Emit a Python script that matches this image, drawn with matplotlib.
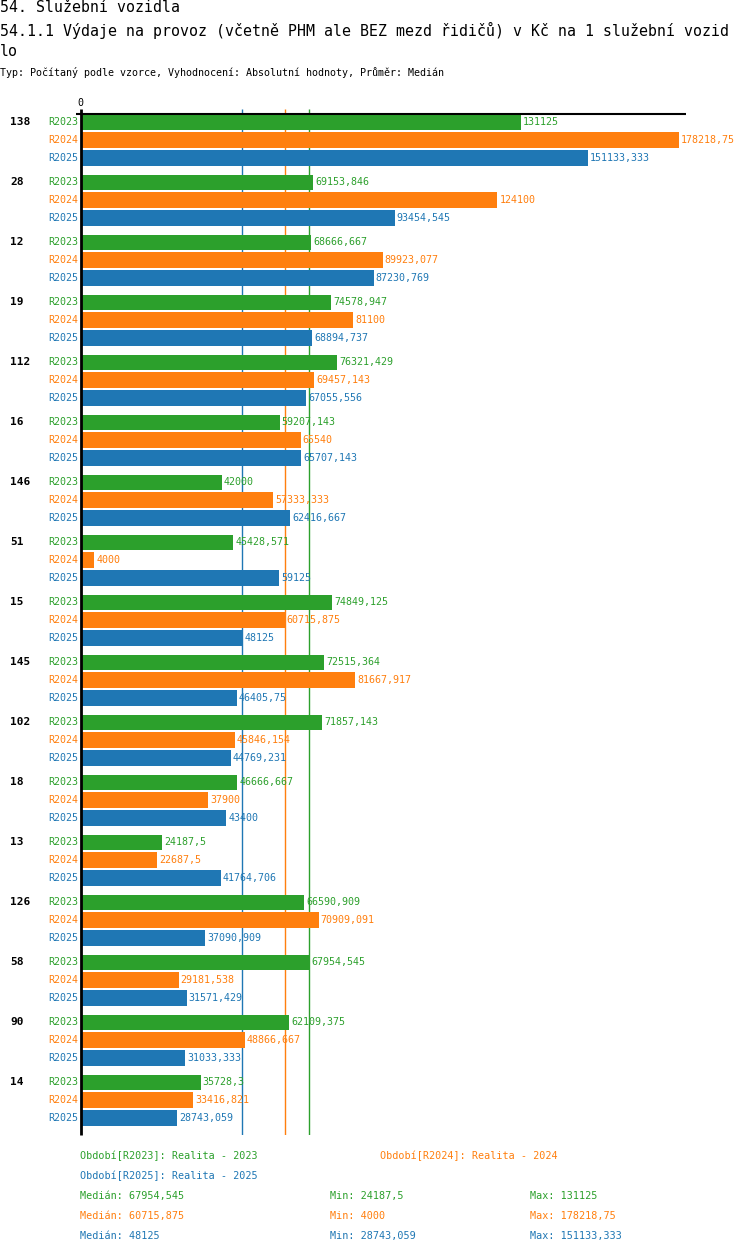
import matplotlib
matplotlib.use('Agg')
import matplotlib.pyplot as plt

#======== Data ========

groups = ['138', '28', '12', '19', '112', '16', '146', '51', '15', '145',
          '102', '18', '13', '126', '58', '90', '14']
series = ['R2023', 'R2024', 'R2025']

r2023 = [131125, 69153.846, 68666.667, 74578.947, 76321.429, 59207.143, 42000,
         45428.571, 74849.125, 72515.364, 71857.143, 46666.667, 24187.5,
         66590.909, 67954.545, 62109.375, 35728.3]
r2024 = [178218.75, 124100, 89923.077, 81100, 69457.143, 65540, 57333.333,
         4000, 60715.875, 81667.917, 45846.154, 37900, 22687.5,
         70909.091, 29181.538, 48866.667, 33416.821]
r2025 = [151133.333, 93454.545, 87230.769, 68894.737, 67055.556, 65707.143,
         62416.667, 59125, 48125, 46405.75, 44769.231, 43400, 41764.706,
         37090.909, 31571.429, 31033.333, 28743.059]

medians = [67954.545, 60715.875, 48125]
minima = [24187.5, 4000, 28743.059]
maxima = [131125, 178218.75, 151133.333]

legend_labels = ['Období[R2023]: Realita - 2023',
                 'Období[R2024]: Realita - 2024',
                 'Období[R2025]: Realita - 2025']

title1 = '54. Služební vozidla'
title2 = '54.1.1 Výdaje na provoz (včetně PHM ale BEZ mezd řidičů) v Kč na 1 služební vozid'
title3 = 'lo'
subtitle = 'Typ: Počítaný podle vzorce, Vyhodnocení: Absolutní hodnoty, Průměr: Medián'

colors = ['#2ca02c', '#ff7f0e', '#1f77b4']

#======== Layout (pixels) ========

W, H = 750, 1254
X0, X1 = 80.7, 685.7
Y0, Y1 = 109, 1135
XMAX = 180160
FIRST_Y = 122.3
GROUP_STEP = 60
BAR_STEP = 17.8
BAR_H = 15.3
FONT = 'DejaVu Sans Mono'


def fmt(v):
    return f"{v:.3f}".rstrip('0').rstrip('.').replace('.', ',')


def ftext(x, y, s, **kw):
    # place text with pixel coordinates (origin top-left)
    kw.setdefault('family', FONT)
    kw.setdefault('va', 'center')
    return fig.text(x / W, 1 - y / H, s, **kw)


fig = plt.figure(figsize=(W / 100, H / 100), dpi=100)
ax = fig.add_axes([X0 / W, 1 - Y1 / H, (X1 - X0) / W, (Y1 - Y0) / H])
ax.set_xlim(0, XMAX)
ax.set_ylim(Y1, Y0)
ax.axis('off')

values = [r2023, r2024, r2025]
for s, (vals, col) in enumerate(zip(values, colors)):
    ys = [FIRST_Y + GROUP_STEP * g + BAR_STEP * s for g in range(len(groups))]
    ax.barh(ys, vals, height=BAR_H, color=col, zorder=2)
    for y, v in zip(ys, vals):
        ax.annotate(fmt(v), (v, y), xytext=(2, 0), textcoords='offset pixels',
                    va='center', ha='left', color=col, fontsize=7.2,
                    family=FONT, annotation_clip=False, zorder=5)
        ftext(X0 - 2, y, series[s], ha='right', color=col, fontsize=7.2)

for g, name in enumerate(groups):
    ftext(10, FIRST_Y + GROUP_STEP * g, name, ha='left', fontsize=8,
          fontweight='bold')

# median lines (behind the bars)
for m, col in zip(medians, colors):
    ax.vlines(m, Y0, Y1, color=col, lw=1, zorder=1)

# axes lines
ax.vlines(0, Y0, Y1, color='black', lw=2, zorder=4, clip_on=False)
ax.hlines(114.3, -5 * XMAX / (X1 - X0), XMAX, color='black', lw=1.5,
          zorder=4, clip_on=False)
ftext(X0, 102.5, '0', ha='center', fontsize=7.2)

# titles
ftext(0, 8, title1, ha='left', fontsize=10.7)
ftext(0, 30, title2, ha='left', fontsize=10.7)
ftext(0, 52, title3, ha='left', fontsize=10.7)
ftext(0, 73, subtitle, ha='left', fontsize=7.2)

# legend
ftext(80, 1156, legend_labels[0], ha='left', color=colors[0], fontsize=7.3)
ftext(380, 1156, legend_labels[1], ha='left', color=colors[1], fontsize=7.3)
ftext(80, 1176, legend_labels[2], ha='left', color=colors[2], fontsize=7.3)
for i, col in enumerate(colors):
    y = 1196 + 20 * i
    ftext(80, y, 'Medián: ' + fmt(medians[i]), ha='left', color=col, fontsize=7.3)
    ftext(330, y, 'Min: ' + fmt(minima[i]), ha='left', color=col, fontsize=7.3)
    ftext(530, y, 'Max: ' + fmt(maxima[i]), ha='left', color=col, fontsize=7.3)

fig.savefig('out.png', dpi=100)
